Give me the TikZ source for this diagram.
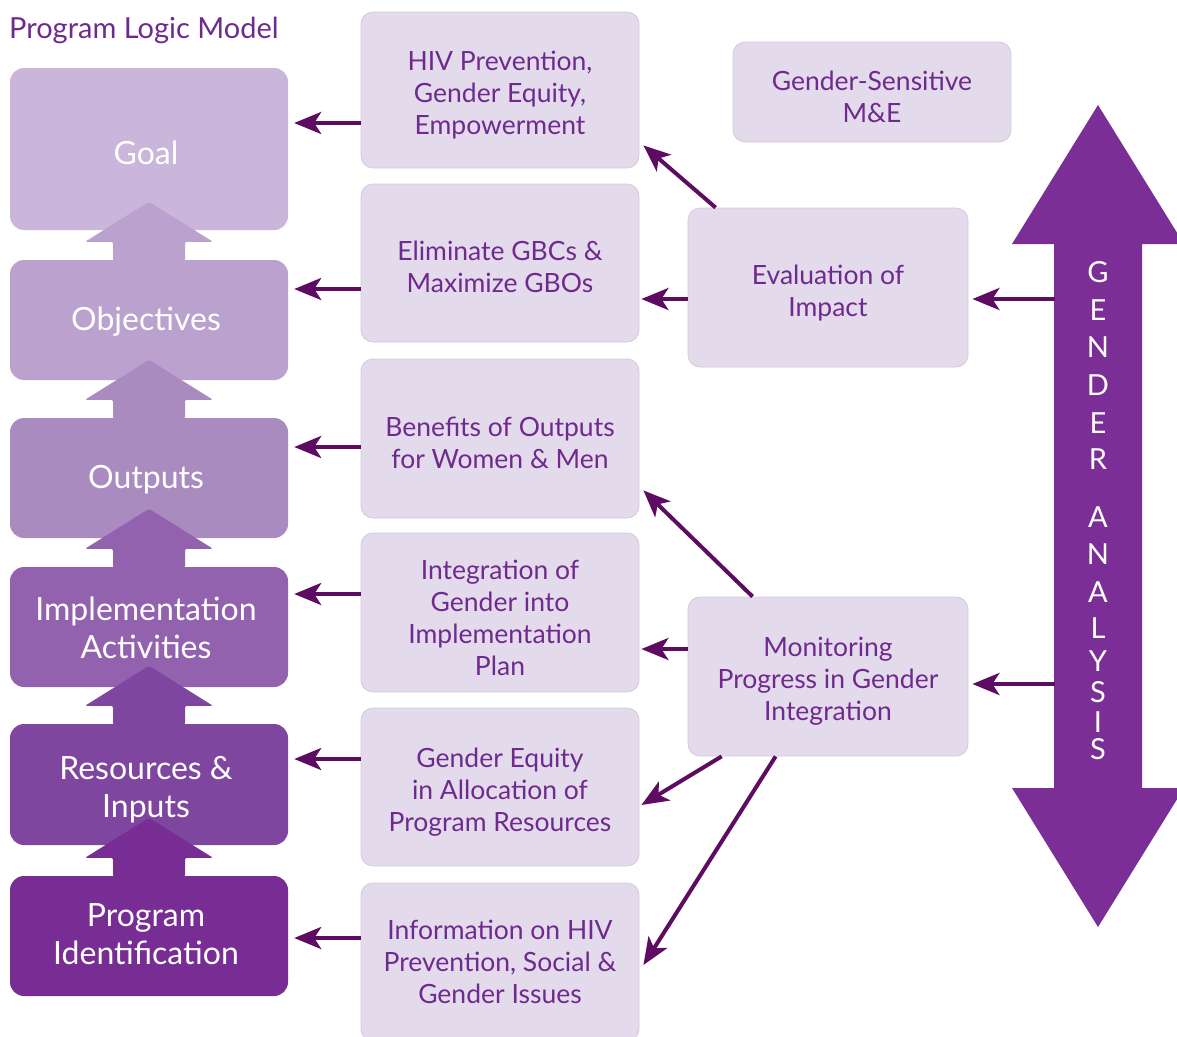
\documentclass[tikz,border=0pt]{standalone}
\usepackage{fontspec}
\setmainfont{Lato}
\usetikzlibrary{arrows.meta,calc}
\definecolor{txt}{HTML}{6E2A8E}
\definecolor{midfill}{HTML}{E3DAEB}
\definecolor{midborder}{HTML}{D2CAD9}
\definecolor{arrowc}{HTML}{5E0C62}
\definecolor{bigarrow}{HTML}{7B2F96}
\definecolor{cgoal}{HTML}{C9B6DA}
\definecolor{cobj}{HTML}{BBA2CE}
\definecolor{cout}{HTML}{A98BC0}
\definecolor{cimp}{HTML}{9262AE}
\definecolor{cres}{HTML}{7F46A0}
\definecolor{cprog}{HTML}{772D94}
\newcommand\lmUpArrow[2]{%
  \fill[#2, rounded corners=2pt]
    ([shift={(-36,1)}]#1.north) -- ([shift={(-36,-18)}]#1.north) --
    ([shift={(-64,-18)}]#1.north) -- ([shift={(0,-58)}]#1.north) --
    ([shift={(64,-18)}]#1.north) -- ([shift={(36,-18)}]#1.north) --
    ([shift={(36,1)}]#1.north) -- cycle;}
\begin{document}
\begin{tikzpicture}[x=1pt,y=-1pt,
  lbox/.style={rounded corners=14pt, minimum width=278pt, inner sep=0pt},
  ltext/.style={text=white, align=center, inner sep=0pt, font=\fontsize{32}{38}\selectfont},
  mbox/.style={rounded corners=12pt, fill=midfill, draw=midborder, line width=0.8pt,
    minimum width=278pt, minimum height=158pt, inner sep=0pt},
  mtext/.style={text=txt, align=center, inner sep=0pt, font=\fontsize{26.5}{32}\selectfont},
  conn/.style={draw=arrowc, line width=4pt, -{Stealth[length=27pt,width=22pt,inset=7pt]}},
  gletter/.style={text=white, font=\fontsize{29}{34}\selectfont, inner sep=0pt}
]
\useasboundingbox (0,0) rectangle (1177,1036);
\clip (0,0) rectangle (1177,1036);

% title
\node[anchor=base west, text=txt, font=\fontsize{29}{34}\selectfont, inner sep=0pt] (title) at (9,38) {Program Logic Model};

% left column
\node[lbox, fill=cgoal, minimum height=162pt] (goal) at (149,149) {};
\node[ltext] (goalt) at ([shift={(-3,4)}]goal.center) {Goal};
\node[lbox, fill=cobj, minimum height=120pt] (obj) at (149,320) {};
\lmUpArrow{obj}{cobj}
\node[ltext] (objt) at ([shift={(-3,2)}]obj.center) {Objectives};
\node[lbox, fill=cout, minimum height=120pt] (outp) at (149,478) {};
\lmUpArrow{outp}{cout}
\node[ltext] (outpt) at ([shift={(-3,2)}]outp.center) {Outputs};
\node[lbox, fill=cimp, minimum height=120pt] (impl) at (149,627) {};
\lmUpArrow{impl}{cimp}
\node[ltext] (implt) at ([shift={(-3,1)}]impl.center) {Implementation\\Activities};
\node[lbox, fill=cres, minimum height=121pt] (res) at (149,784.5) {};
\lmUpArrow{res}{cres}
\node[ltext] (rest) at ([shift={(-3,5)}]res.center) {Resources \&\\Inputs};
\node[lbox, fill=cprog, minimum height=120pt] (prog) at (149,936) {};
\lmUpArrow{prog}{cprog}
\node[ltext] (progt) at ([shift={(-3,-2)}]prog.center) {Program\\Identification};

% middle column
\node[mbox, minimum height=156pt] (m1) at (500,90) {};
\node[mtext] (m1t) at ([yshift=-5pt]m1.center) {HIV Prevention,\\Gender Equity,\\Empowerment};
\node[mbox] (m2) at (500,263) {};
\node[mtext] (m2t) at ([yshift=-4pt]m2.center) {Eliminate GBCs \&\\Maximize GBOs};
\node[mbox, minimum height=159pt] (m3) at (500,438.5) {};
\node[mtext] (m3t) at ([yshift=-4pt]m3.center) {Benefits of Outputs\\for Women \& Men};
\node[mbox, minimum height=159pt] (m4) at (500,612.5) {};
\node[mtext] (m4t) at ([yshift=-5pt]m4.center) {Integration of\\Gender into\\Implementation\\Plan};
\node[mbox] (m5) at (500,787) {};
\node[mtext] (m5t) at ([yshift=-5pt]m5.center) {Gender Equity\\in Allocation of\\Program Resources};
\node[mbox] (m6) at (500,962) {};
\node[mtext] (m6t) at ([yshift=0pt]m6.center) {Information on HIV\\Prevention, Social \&\\Gender Issues};

% right column
\node[mbox, minimum width=278pt, minimum height=100pt] (gsme) at (872,92) {};
\node[mtext] (gsmet) at ([yshift=-5pt]gsme.center) {Gender-Sensitive\\M\&E};
\node[mbox, minimum width=280pt, minimum height=159pt] (eval) at (828,287.5) {};
\node[mtext] (evalt) at ([yshift=-6pt]eval.center) {Evaluation of\\Impact};
\node[mbox, minimum width=280pt, minimum height=159pt] (mon) at (828,676.5) {};
\node[mtext] (mont) at ([yshift=-5pt]mon.center) {Monitoring\\Progress in Gender\\Integration};

% big double arrow
\fill[bigarrow] (1098,105) -- (1184,244) -- (1142,244) -- (1142,788) -- (1184,788)
  -- (1098,927) -- (1012,788) -- (1054,788) -- (1054,244) -- (1012,244) -- cycle;
\coordinate (gs) at (1055,0);
\foreach \l/\yy [count=\i] in {G/272,E/310,N/347,D/385,E/423,R/459,A/517,N/554,A/592,L/628,Y/661,S/692,I/722,S/749}
  \node[gletter] (g\i) at (1098,\yy) {\l};

% connectors to left column
\coordinate (a1) at (m1.west |- 0,123);
\draw[conn, shorten >=6pt] (a1) -- (a1 -| goal.east);
\coordinate (a2) at (m2.west |- 0,289);
\draw[conn, shorten >=6pt] (a2) -- (a2 -| obj.east);
\coordinate (a3) at (m3.west |- 0,447);
\draw[conn, shorten >=6pt] (a3) -- (a3 -| outp.east);
\coordinate (a4) at (m4.west |- 0,594);
\draw[conn, shorten >=6pt] (a4) -- (a4 -| impl.east);
\coordinate (a5) at (m5.west |- 0,759);
\draw[conn, shorten >=6pt] (a5) -- (a5 -| res.east);
\coordinate (a6) at (m6.west |- 0,938);
\draw[conn, shorten >=6pt] (a6) -- (a6 -| prog.east);

% evaluation connectors
\draw[conn] ([xshift=28pt]eval.north west) -- ([xshift=4pt,yshift=23pt]m1.south east);
\coordinate (e2) at ([yshift=-11.5pt]eval.west);
\draw[conn, shorten >=2pt] (e2) -- (e2 -| m2.east);
\draw[conn, shorten >=4pt] (gs |- e2) -- (e2 -| eval.east);

% monitoring connectors
\draw[conn] ([xshift=65pt]mon.north west) -- ([xshift=4pt,yshift=28pt]m3.south east);
\coordinate (mo4) at ([yshift=27.5pt]mon.west);
\draw[conn, shorten >=2pt] (mo4) -- (mo4 -| m4.east);
\draw[conn] ([xshift=34pt]mon.south west) -- ([xshift=2pt,yshift=-18pt]m5.east);
\draw[conn] ([xshift=88pt]mon.south west) -- ([xshift=4pt,yshift=-3pt]m6.east);
\coordinate (g2) at (gs |- 0,684);
\draw[conn, shorten >=4pt] (g2) -- (g2 -| mon.east);
\end{tikzpicture}
\end{document}
